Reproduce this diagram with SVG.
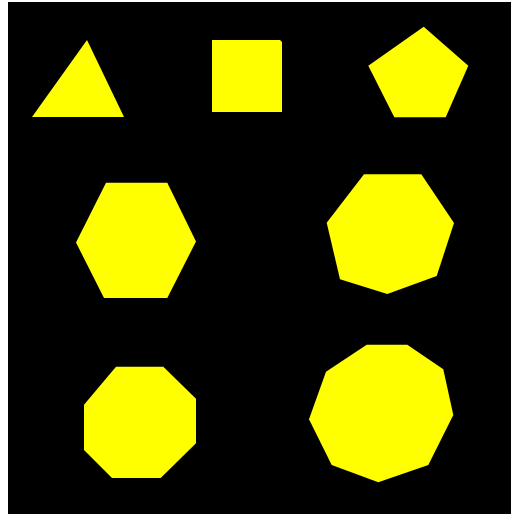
<svg xmlns="http://www.w3.org/2000/svg" width="511" height="514" viewBox="0 0 511 514">
<style>.s{fill:#ffff00;stroke:none}</style>
<rect x="0" y="0" width="511" height="514" fill="#ffffff"/>
<rect x="8" y="2" width="503" height="512" fill="#000000"/>
<g id="triangle"><polygon class="s" points="87,40 124,117 32,117"/></g>
<g id="square"><polygon class="s" points="212,40 280,40 282,42 282,112 212,112"/></g>
<g id="pentagon"><polygon class="s" points="423.7,26.7 468.3,65.7 445.7,117.3 394.3,117.3 368.3,65.7"/></g>
<g id="hexagon"><polygon class="s" points="106,182.7 167.3,182.7 196,241.5 167.3,298 104,298 76,242.5"/></g>
<g id="heptagon"><polygon class="s" points="364,174.3 421.3,174.3 454,223 436.7,276 387.3,294 340,279.3 326.7,222.7"/></g>
<g id="octagon"><polygon class="s" points="116,366.7 163.3,366.7 196,398.7 196,443.3 160.7,478 112,478 84,450 84,404.7"/></g>
<g id="nonagon"><polygon class="s" points="366.7,344.7 407.3,344.7 443.3,369.3 453.3,415 428.3,465 378.3,482.3 331.7,465 309,419.3 326,371.7"/></g>
</svg>
